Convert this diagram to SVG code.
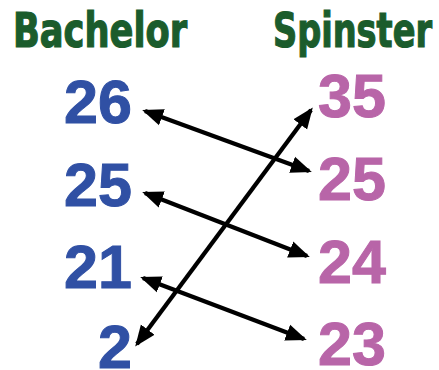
<svg xmlns="http://www.w3.org/2000/svg" width="439" height="370" viewBox="0 0 439 370">
<style>
.title{font-family:"DejaVu Sans Condensed","Liberation Sans Narrow",sans-serif;font-weight:bold;font-size:48px;fill:#1b5c2c;stroke:#1b5c2c;stroke-width:1.2}
.num{font-family:"Liberation Sans","DejaVu Sans",sans-serif;font-weight:bold;font-size:61px;stroke-width:1}
.b{fill:#3050a4;stroke:#3050a4}
.s{fill:#b865a8;stroke:#b865a8}
.conn{stroke:#000;stroke-width:4.3;fill:none;marker-start:url(#ah);marker-end:url(#ah)}
</style>
<defs>
<marker id="ah" markerUnits="userSpaceOnUse" markerWidth="22" markerHeight="18" refX="18" refY="8.5" orient="auto-start-reverse" viewBox="0 0 22 17">
<path d="M0,0 L21,8.5 L0,17 Z" fill="#000"/>
</marker>
</defs>
<rect width="439" height="370" fill="#fff"/>
<g id="header-bachelor"><text class="title" x="13" y="47" textLength="174" lengthAdjust="spacingAndGlyphs">Bachelor</text></g>
<g id="header-spinster"><text class="title" x="273" y="47" textLength="159" lengthAdjust="spacingAndGlyphs">Spinster</text></g>
<g id="b26"><text class="num b" x="64" y="123">26</text></g>
<g id="b25"><text class="num b" x="64" y="206">25</text></g>
<g id="b21"><text class="num b" x="64" y="288">21</text></g>
<g id="b2"><text class="num b" x="98" y="368">2</text></g>
<g id="s35"><text class="num s" x="318" y="117">35</text></g>
<g id="s25"><text class="num s" x="318" y="200">25</text></g>
<g id="s24"><text class="num s" x="318" y="283">24</text></g>
<g id="s23"><text class="num s" x="318" y="365">23</text></g>
<g id="connectors">
<path class="conn" d="M145,111 L309,171"/>
<path class="conn" d="M145,193 L307,256"/>
<path class="conn" d="M143,278 L304,339"/>
<path class="conn" d="M137,344 L311,110"/>
</g>
</svg>
